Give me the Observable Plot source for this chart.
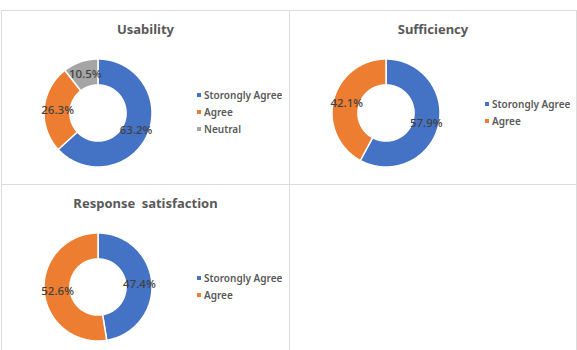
<!DOCTYPE html>
<html>
<head>
<meta charset="utf-8">
<script src="https://cdn.jsdelivr.net/npm/d3@7"></script>
<script src="https://cdn.jsdelivr.net/npm/@observablehq/plot@0.6"></script>
<style>
  html, body { margin: 0; padding: 0; background: #fff; }
  body { width: 577px; height: 350px; position: relative; overflow: hidden; font-family: "Noto Sans", sans-serif; }
  .panel { position: absolute; box-sizing: border-box; border: 1px solid #dcdcdc; background: #fff; overflow: hidden; }
  .title { position: absolute; left: 0; right: 0; top: 9px; text-align: center; font-weight: 700; font-size: 13px; color: #595959; word-spacing: 3px; }
  .chart { position: absolute; left: 0; top: 0; }
  .leg { position: absolute; }
  .leg .lg-swatch { height: 17px !important; padding: 0 !important; margin: 0 !important; display: flex !important; align-items: center !important; }
  .leg .lg-swatch svg { margin-right: 3px !important; }
  .leg .lg-swatches { margin: 0 !important; min-height: 0 !important; }
</style>
</head>
<body>
<script>
const usabilityCategories = ["Storongly Agree", "Agree", "Neutral"];
const usabilityValues = [63.2, 26.3, 10.5];
const sufficiencyCategories = ["Storongly Agree", "Agree"];
const sufficiencyValues = [57.9, 42.1];
const responseCategories = ["Storongly Agree", "Agree"];
const responseValues = [47.4, 52.6];
const titles = ["Usability", "Sufficiency", "Response satisfaction"];
const palette = { "Storongly Agree": "#4472C4", "Agree": "#ED7D31", "Neutral": "#A5A5A5" };

const panels = [
  { left: 1, top: 10, width: 289, height: 175 },
  { left: 289, top: 10, width: 288, height: 175 },
  { left: 1, top: 184, width: 289, height: 180 },
  { left: 289, top: 184, width: 288, height: 180 }
];

const charts = [
  { title: titles[0], cats: usabilityCategories, vals: usabilityValues },
  { title: titles[1], cats: sufficiencyCategories, vals: sufficiencyValues },
  { title: titles[2], cats: responseCategories, vals: responseValues }
];

const R = 54, INNER = 0.52, CX = 96, CY = 102;

panels.forEach((p, i) => {
  const div = document.createElement("div");
  div.className = "panel";
  Object.assign(div.style, { left: p.left + "px", top: p.top + "px", width: p.width + "px", height: p.height + "px" });
  document.body.appendChild(div);
  const c = charts[i];
  if (!c) return;

  const t = document.createElement("div");
  t.className = "title";
  t.textContent = c.title;
  div.appendChild(t);

  const total = d3.sum(c.vals);
  let acc = 0;
  const ringPts = [];
  const labels = [];
  c.cats.forEach((cat, k) => {
    const a0 = acc / total * 2 * Math.PI;
    acc += c.vals[k];
    const a1 = acc / total * 2 * Math.PI;
    const n = Math.max(2, Math.ceil((a1 - a0) / (Math.PI / 180)));
    for (let j = 0; j <= n; j++) {
      const a = a0 + (a1 - a0) * j / n;
      ringPts.push({ cat, ox: Math.sin(a), oy: Math.cos(a), ix: INNER * Math.sin(a), iy: INNER * Math.cos(a) });
    }
    const am = (a0 + a1) / 2, rm = (1 + INNER) / 2;
    labels.push({ cat, x: rm * Math.sin(am), y: rm * Math.cos(am), text: c.vals[k].toFixed(1) + "%" });
  });

  const colorScale = { domain: c.cats, range: c.cats.map(k => palette[k]) };

  const svg = Plot.plot({
    width: p.width - 2,
    height: p.height - 2,
    margin: 0,
    x: { domain: [-1, 1], range: [CX - R, CX + R], axis: null },
    y: { domain: [-1, 1], range: [CY + R, CY - R], axis: null },
    color: colorScale,
    style: { fontFamily: "Noto Sans, sans-serif", background: "transparent", overflow: "visible" },
    marks: [
      Plot.area(ringPts, { x1: "ox", y1: "oy", x2: "ix", y2: "iy", z: "cat", fill: "cat", stroke: "#fff", strokeWidth: 1.5, curve: "linear" }),
      Plot.text(labels, { x: "x", y: "y", text: "text", fill: "#404040", fontSize: 11.5, fontWeight: 500 })
    ]
  });
  svg.classList.add("chart");
  div.appendChild(svg);

  const leg = Plot.legend({
    color: colorScale,
    columns: 1,
    swatchSize: 4,
    className: "lg",
    style: { fontFamily: "Noto Sans, sans-serif", fontSize: "10px", fontWeight: "600", color: "#595959" }
  });
  const wrap = document.createElement("div");
  wrap.className = "leg";
  wrap.style.left = "195px";
  wrap.style.top = (CY - 1 - c.cats.length * 17 / 2) + "px";
  wrap.appendChild(leg);
  div.appendChild(wrap);
});
</script>
</body>
</html>
